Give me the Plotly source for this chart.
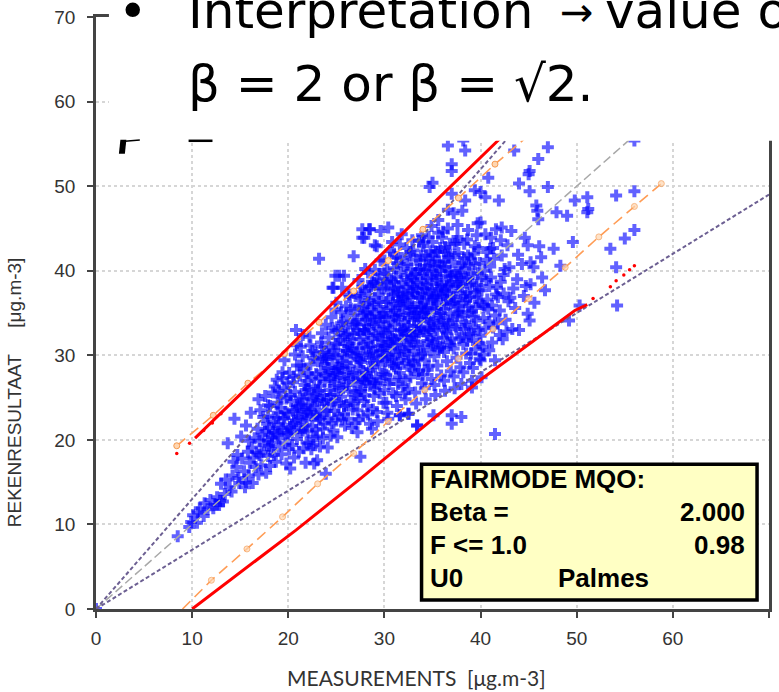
import plotly.graph_objects as go

# ---------------- data ----------------
# measurements / model results, grouped by measurement range
pts_tail = [(0.0, 0.0), (8.5, 8.6), (9.7, 9.7), (9.9, 10.3), (10.1, 11.1), (10.5, 10.2), (10.8, 11.9), (10.6, 11.4),
            (11.3, 12.5), (11.6, 11.8), (11.9, 12.9), (11.2, 11.0), (12.4, 12.3), (12.8, 12.3), (12.6, 13.2),
            (12.2, 11.9), (12.9, 12.8), (13.4, 13.6), (13.0, 14.8), (13.7, 19.6), (13.9, 14.4), (13.5, 15.3),
            (13.2, 12.7), (14.6, 16.8), (14.2, 15.8), (14.7, 18.2), (14.4, 22.5), (14.9, 14.9), (14.3, 17.4),
            (14.8, 15.5), (14.1, 13.9)]
pts_15_20 = [(15.6, 21.7), (15.9, 19.9), (15.9, 15.8), (15.6, 15.0), (15.2, 17.8), (15.4, 16.3), (15.8, 18.6),
             (15.1, 20.4), (15.5, 14.4), (16.6, 16.8), (16.2, 19.1), (16.8, 21.3), (16.4, 17.9), (16.9, 15.9),
             (16.1, 23.2), (16.5, 20.2), (16.7, 18.5), (16.3, 14.9), (16.9, 24.8), (17.2, 17.0), (17.5, 19.4),
             (17.8, 21.9), (17.1, 23.5), (17.6, 25.2), (17.9, 18.1), (17.3, 20.6), (17.7, 16.1), (17.4, 22.7),
             (17.9, 24.1), (17.0, 19.9), (18.2, 18.9), (18.6, 20.8), (18.9, 23.2), (18.4, 25.6), (18.1, 16.9),
             (18.8, 27.1), (18.5, 22.1), (18.3, 19.7), (18.7, 17.4), (18.9, 24.4), (18.0, 21.4), (18.6, 26.3),
             (19.4, 28.0), (19.1, 20.2), (19.6, 22.6), (19.8, 24.9), (19.3, 18.3), (19.9, 26.7), (19.5, 21.2),
             (19.2, 23.8), (19.7, 19.6), (19.0, 25.8), (19.8, 17.2), (19.4, 27.3), (19.6, 29.4), (19.5, 22.5),
             (18.9, 20.6), (18.4, 21.0), (17.9, 20.0), (16.0, 17.3), (17.0, 18.2), (18.0, 19.3), (19.0, 21.8),
             (17.2, 18.5), (17.6, 21.0), (17.9, 22.8), (18.3, 20.3), (18.7, 22.6), (18.1, 24.0), (18.5, 18.2),
             (19.0, 19.2), (19.3, 21.4), (19.7, 23.3), (19.2, 25.1), (19.9, 20.8), (19.6, 26.1)]
pts_20_25 = [(20.8, 33.0), (20.9, 31.2), (20.2, 21.5), (20.5, 23.4), (20.7, 25.7), (20.1, 27.9), (20.4, 19.4),
             (20.9, 28.8), (20.6, 17.9), (20.3, 24.6), (20.8, 22.3), (20.0, 20.6), (20.5, 26.8), (20.7, 30.1),
             (20.2, 16.6), (21.1, 18.6), (21.3, 20.9), (21.6, 23.1), (21.9, 25.4), (21.2, 27.6), (21.5, 29.9),
             (21.8, 21.8), (21.4, 24.3), (21.7, 26.5), (21.0, 22.7), (21.9, 19.7), (21.6, 28.4), (21.3, 31.0),
             (21.8, 17.3), (21.2, 25.0), (21.5, 32.4), (22.2, 32.2), (22.4, 18.9), (22.6, 20.4), (22.9, 22.8),
             (22.1, 24.1), (22.7, 26.3), (22.3, 28.9), (22.8, 30.3), (22.5, 21.6), (22.0, 23.3), (22.9, 25.5),
             (22.4, 27.4), (22.6, 29.7), (22.2, 19.6), (22.8, 23.9), (22.3, 31.2), (22.7, 17.2), (23.5, 32.6),
             (23.2, 41.4), (23.9, 16.0), (23.0, 17.6), (23.3, 19.2), (23.6, 21.3), (23.8, 23.5), (23.1, 25.8),
             (23.4, 28.1), (23.7, 30.4), (23.9, 33.6), (23.2, 22.4), (23.5, 24.7), (23.8, 26.9), (23.1, 29.3),
             (23.6, 20.2), (23.4, 31.5), (23.9, 27.6), (23.0, 23.0), (24.7, 21.1), (24.4, 20.5), (24.9, 39.4),
             (24.6, 38.0), (24.2, 22.6), (24.5, 24.2), (24.8, 26.4), (24.1, 28.5), (24.3, 30.9), (24.6, 33.2),
             (24.9, 35.4), (24.4, 25.3), (24.7, 27.7), (24.0, 29.6), (24.2, 32.1), (24.8, 23.4), (24.5, 34.5),
             (24.1, 19.1), (24.9, 31.4), (24.6, 29.0), (24.8, 30.1), (24.0, 24.8), (24.4, 27.2),
             (23.7, 25.3), (23.0, 24.6), (22.4, 22.9), (21.8, 23.6), (21.2, 21.4), (20.6, 22.0), (20.0, 23.1),
             (20.3, 21.0), (20.9, 24.1), (21.4, 22.6), (21.9, 27.0), (22.5, 24.8), (22.9, 27.8), (23.3, 26.4),
             (23.8, 28.9), (24.2, 27.9), (24.7, 30.6), (24.9, 28.2), (23.5, 29.6), (22.1, 26.0), (21.5, 24.8),
             (20.1, 18.9), (20.4, 21.8), (20.8, 23.6), (20.2, 25.3), (20.6, 27.5), (20.9, 20.1), (21.1, 23.9),
             (21.5, 21.1), (21.8, 25.9), (21.3, 28.8), (21.9, 22.4), (21.6, 19.0), (22.0, 21.0), (22.3, 23.6),
             (22.7, 25.0), (22.1, 27.9), (22.5, 30.5), (22.9, 21.2), (22.6, 19.4), (23.0, 20.4), (23.3, 22.6),
             (23.7, 24.3), (23.2, 27.2), (23.9, 29.8), (23.5, 31.0), (23.8, 21.9), (24.0, 23.4), (24.3, 25.9),
             (24.7, 24.6), (24.2, 30.0), (24.9, 32.9), (24.5, 22.0), (24.8, 27.0)]
pts_25_30 = [(25.3, 39.4), (25.8, 39.4), (25.6, 38.0), (25.9, 21.7), (25.2, 23.0), (25.5, 25.1), (25.8, 27.3),
             (25.1, 29.7), (25.4, 31.8), (25.7, 34.0), (25.0, 36.2), (25.3, 26.2), (25.6, 28.4), (25.9, 30.6),
             (25.2, 33.0), (25.5, 35.1), (25.8, 24.0), (25.1, 20.3), (25.7, 32.2), (25.0, 27.9),
             (25.6, 22.4), (26.8, 41.7), (26.2, 22.5), (26.5, 24.6), (26.8, 26.9), (26.1, 29.1),
             (26.4, 31.4), (26.7, 33.6), (26.0, 35.8), (26.3, 37.2), (26.9, 25.7), (26.2, 28.0),
             (26.5, 30.2), (26.8, 32.5), (26.1, 34.7), (26.4, 36.9), (26.7, 23.6), (26.3, 27.2),
             (26.9, 35.3), (26.6, 21.4), (27.7, 43.9), (27.7, 44.9), (27.9, 43.9), (27.5, 18.0),
             (27.2, 23.5), (27.5, 25.8), (27.8, 28.1), (27.1, 30.3), (27.4, 32.6), (27.7, 34.8), (27.0, 37.0),
             (27.3, 38.9), (27.9, 24.6), (27.2, 26.9), (27.5, 29.2), (27.8, 31.4), (27.1, 33.7),
             (27.4, 35.9), (27.7, 38.1), (27.3, 22.4), (27.6, 36.8), (27.9, 33.0), (27.2, 20.9),
             (28.5, 44.9), (28.4, 44.9), (28.7, 21.3), (28.5, 21.9), (28.2, 24.0), (28.5, 26.4), (28.8, 28.6),
             (28.1, 30.9), (28.4, 33.1), (28.7, 35.4), (28.0, 37.6), (28.3, 39.8), (28.9, 25.2),
             (28.2, 27.5), (28.5, 29.7), (28.8, 32.0), (28.1, 34.2), (28.4, 36.5), (28.7, 38.7), (28.0, 40.2),
             (28.3, 23.0), (28.6, 31.0), (28.9, 36.0), (28.5, 34.6), (29.0, 43.0), (29.2, 42.9),
             (29.6, 44.7), (29.2, 23.3), (29.5, 25.5), (29.8, 27.8), (29.1, 30.0), (29.4, 32.3), (29.7, 34.5),
             (29.0, 36.8), (29.3, 39.0), (29.6, 41.2), (29.9, 24.4), (29.2, 26.7), (29.5, 28.9), (29.8, 31.2),
             (29.1, 33.4), (29.4, 35.7), (29.7, 37.9), (29.0, 40.1), (29.3, 22.2), (29.6, 30.5), (29.9, 35.0),
             (29.2, 38.4), (29.5, 33.9), (25.3, 28.6), (26.4, 28.7), (27.6, 29.4), (28.7, 29.1),
             (29.9, 30.6), (25.0, 25.4), (26.0, 26.5), (27.0, 27.7), (28.0, 26.8), (29.0, 26.1), (27.3, 30.8),
             (27.9, 32.9), (28.4, 30.2), (28.9, 33.7), (29.3, 29.4), (29.8, 32.6), (29.6, 36.3), (29.0, 34.9),
             (28.4, 37.9), (27.8, 35.7), (27.2, 34.2), (26.6, 31.9), (26.1, 30.5), (25.6, 29.3), (26.9, 29.9),
             (28.2, 35.1), (29.5, 39.6), (24.7, 38.0), (25.2, 31.3), (25.7, 30.0), (26.2, 32.6), (26.7, 30.9),
             (26.0, 33.3), (25.4, 27.4), (27.1, 25.3), (27.4, 28.6), (27.8, 30.0), (27.5, 31.9), (27.2, 33.0),
             (27.9, 27.1), (27.6, 26.0), (28.1, 27.9), (28.6, 28.3), (28.3, 31.6), (28.8, 30.4), (28.0, 33.6),
             (28.7, 34.2), (28.3, 36.2), (28.9, 26.7), (29.1, 27.4), (29.6, 27.0), (29.3, 31.1), (29.8, 29.9),
             (29.0, 32.4), (29.5, 34.6), (29.9, 33.2), (29.4, 37.2), (29.7, 31.9), (25.0, 22.3), (25.3, 24.4),
             (25.7, 26.1), (25.2, 28.5), (25.9, 32.4), (25.5, 33.8), (25.8, 23.1), (26.0, 24.1), (26.3, 25.8),
             (26.7, 27.9), (26.2, 31.1), (26.9, 33.9), (26.5, 35.5), (26.8, 24.3), (27.0, 22.0), (27.3, 24.9),
             (27.7, 27.2), (27.2, 29.6), (27.9, 35.0), (27.5, 37.3), (27.8, 22.8), (28.0, 25.3), (28.4, 27.1),
             (28.8, 23.6), (28.2, 32.6), (28.6, 38.2), (28.9, 38.6)]
pts_30_35 = [(30.4, 45.1), (30.4, 22.5), (30.2, 24.4), (30.5, 26.6), (30.8, 28.9), (30.1, 31.1), (30.4, 33.4),
             (30.7, 35.6), (30.0, 37.9), (30.3, 40.1), (30.6, 42.3), (30.9, 25.5), (30.2, 27.7), (30.5, 30.0),
             (30.8, 32.2), (30.1, 34.5), (30.4, 36.7), (30.7, 39.0), (30.0, 41.2), (30.3, 23.2), (30.6, 31.5),
             (30.9, 36.1), (30.2, 38.6), (30.5, 34.0), (30.8, 43.4), (30.1, 29.3), (30.6, 27.1), (31.8, 44.3),
             (31.6, 22.9), (31.2, 25.2), (31.5, 27.4), (31.8, 29.7), (31.1, 31.9), (31.4, 34.2), (31.7, 36.4),
             (31.0, 38.7), (31.3, 40.9), (31.6, 43.1), (31.9, 26.3), (31.2, 28.5), (31.5, 30.8), (31.8, 33.0),
             (31.1, 35.3), (31.4, 37.5), (31.7, 39.8), (31.0, 42.0), (31.3, 24.0), (31.6, 32.3), (31.9, 36.9),
             (31.2, 39.3), (31.5, 34.8), (31.8, 41.5), (31.1, 30.1), (31.6, 27.9), (31.4, 37.0), (32.5, 23.1),
             (32.2, 24.8), (32.5, 26.0), (32.8, 28.3), (32.1, 30.5), (32.4, 32.8), (32.7, 35.0), (32.0, 37.3),
             (32.3, 39.5), (32.6, 41.8), (32.9, 43.6), (32.2, 27.1), (32.5, 29.4), (32.8, 31.6), (32.1, 33.9),
             (32.4, 36.1), (32.7, 38.4), (32.0, 40.6), (32.3, 42.7), (32.6, 30.9), (32.9, 35.5), (32.2, 38.0),
             (32.5, 33.5), (32.8, 40.2), (32.1, 25.5), (32.6, 28.7), (32.4, 37.2), (32.9, 32.4), (33.4, 21.7),
             (33.2, 25.6), (33.5, 27.8), (33.8, 30.1), (33.1, 32.3), (33.4, 34.6), (33.7, 36.8), (33.0, 39.1),
             (33.3, 41.3), (33.6, 43.5), (33.9, 26.7), (33.2, 28.9), (33.5, 31.2), (33.8, 33.4), (33.1, 35.7),
             (33.4, 37.9), (33.7, 40.2), (33.0, 42.4), (33.3, 24.3), (33.6, 32.7), (33.9, 37.3), (33.2, 39.6),
             (33.5, 35.1), (33.8, 41.8), (33.1, 30.5), (33.6, 28.2), (33.4, 38.6), (33.9, 44.2), (34.7, 49.9),
             (34.2, 26.1), (34.5, 28.3), (34.8, 30.6), (34.1, 32.8), (34.4, 35.1), (34.7, 37.3), (34.0, 39.6),
             (34.3, 41.8), (34.6, 44.0), (34.9, 27.2), (34.2, 29.4), (34.5, 31.7), (34.8, 33.9), (34.1, 36.2),
             (34.4, 38.4), (34.7, 40.7), (34.0, 42.9), (34.3, 24.8), (34.6, 33.2), (34.9, 37.8), (34.2, 40.1),
             (34.5, 35.6), (34.8, 42.3), (34.1, 31.0), (34.6, 28.7), (34.4, 39.1), (34.9, 45.3), (30.9, 31.9),
             (32.0, 33.1), (33.1, 34.2), (34.3, 35.4), (30.2, 35.3), (30.7, 30.9), (31.1, 33.6), (31.6, 35.9),
             (32.0, 31.8), (32.5, 34.4), (32.9, 36.8), (33.3, 32.9), (33.8, 35.7), (34.2, 37.9), (34.6, 34.3),
             (33.0, 38.1), (32.2, 36.6), (31.5, 38.1), (30.9, 37.2), (30.3, 38.8), (31.0, 40.3), (32.4, 40.8),
             (33.7, 41.2), (34.1, 43.3), (32.7, 42.2), (31.2, 41.6), (30.0, 39.7), (33.5, 29.6), (34.9, 31.9),
             (34.0, 27.7), (32.7, 27.4), (31.4, 26.6), (30.0, 25.9), (31.6, 22.9), (32.5, 23.1), (33.4, 21.7),
             (30.0, 28.0), (30.3, 29.8), (30.6, 33.0), (30.9, 34.7), (30.2, 36.3), (30.7, 37.7), (30.4, 31.6),
             (30.8, 29.5), (30.1, 32.7), (31.0, 28.7), (31.3, 31.3), (31.7, 32.9), (31.2, 34.6), (31.9, 35.6),
             (31.5, 36.4), (31.0, 37.9), (31.8, 38.6), (31.4, 29.1), (31.6, 30.4), (32.0, 29.0), (32.3, 31.2),
             (32.7, 32.1), (32.1, 34.8), (32.6, 35.7), (32.9, 37.6), (32.4, 38.9), (32.8, 39.3), (32.2, 32.5),
             (32.5, 30.1), (33.0, 29.3), (33.3, 31.6), (33.7, 33.1), (33.2, 35.0), (33.9, 36.0), (33.5, 36.9),
             (33.0, 37.4), (33.8, 38.9), (33.4, 40.1), (33.6, 34.2), (33.1, 33.5), (34.0, 30.2), (34.4, 32.4),
             (34.7, 33.0), (34.2, 34.5), (34.9, 36.5), (34.5, 37.1), (34.0, 38.0), (34.8, 39.4), (34.3, 40.6),
             (34.6, 41.4), (34.1, 35.0)]
pts_35_40 = [(35.0, 50.4), (35.1, 22.9), (35.2, 26.5), (35.5, 28.8), (35.8, 31.0), (35.1, 33.3), (35.4, 35.5),
             (35.7, 37.8), (35.0, 40.0), (35.3, 42.3), (35.6, 44.5), (35.9, 27.6), (35.2, 29.9), (35.5, 32.1),
             (35.8, 34.4), (35.1, 36.6), (35.4, 38.9), (35.7, 41.1), (35.0, 43.4), (35.3, 25.3), (35.6, 33.6),
             (35.9, 38.2), (35.2, 40.6), (35.5, 36.1), (35.8, 42.7), (35.1, 31.5), (35.6, 46.0), (35.4, 39.6),
             (36.6, 54.8), (36.2, 27.0), (36.5, 29.3), (36.8, 31.5), (36.1, 33.8), (36.4, 36.0), (36.7, 38.3),
             (36.0, 40.5), (36.3, 42.8), (36.6, 45.0), (36.9, 28.1), (36.2, 30.4), (36.5, 32.6), (36.8, 34.9),
             (36.1, 37.1), (36.4, 39.4), (36.7, 41.6), (36.0, 43.9), (36.3, 25.8), (36.6, 34.1), (36.9, 38.7),
             (36.2, 41.1), (36.5, 36.6), (36.8, 43.2), (36.1, 32.0), (36.6, 47.2), (37.0, 52.6), (37.0, 51.8),
             (37.0, 49.1), (37.0, 22.9), (37.0, 21.9), (37.2, 27.5), (37.5, 29.7), (37.8, 32.0), (37.1, 34.2),
             (37.4, 36.5), (37.7, 38.7), (37.0, 41.0), (37.3, 43.2), (37.6, 45.4), (37.9, 28.6), (37.2, 30.8),
             (37.5, 33.1), (37.8, 35.3), (37.1, 37.6), (37.4, 39.8), (37.7, 42.1), (37.3, 26.1), (37.6, 34.6),
             (37.9, 39.2), (37.2, 46.8), (38.2, 55.4), (38.4, 54.2), (38.4, 48.3), (38.1, 47.1), (38.0, 26.6),
             (38.0, 22.7), (38.2, 28.0), (38.5, 30.2), (38.8, 32.5), (38.1, 34.7), (38.4, 37.0), (38.7, 39.2),
             (38.3, 41.5), (38.6, 43.7), (38.9, 29.1), (38.2, 31.3), (38.5, 33.6), (38.8, 35.8), (38.1, 38.1),
             (38.4, 40.3), (38.7, 44.8), (38.5, 36.5), (39.4, 49.5), (39.1, 27.0), (39.1, 26.2), (39.2, 28.5),
             (39.5, 30.7), (39.8, 33.0), (39.1, 35.2), (39.4, 37.5), (39.7, 39.7), (39.3, 42.0), (39.6, 44.2),
             (39.9, 29.6), (39.2, 31.8), (39.5, 34.1), (39.8, 36.3), (39.1, 38.6), (39.4, 40.8), (39.7, 45.6),
             (35.4, 36.9), (36.5, 38.1), (37.6, 39.5), (38.7, 41.8), (39.8, 42.7), (35.1, 36.9), (35.5, 39.2),
             (35.9, 35.0), (36.3, 37.7), (36.8, 40.0), (37.2, 36.2), (37.7, 38.2), (38.1, 40.9), (38.6, 37.4),
             (35.0, 41.8), (36.4, 42.3), (37.5, 43.5), (36.2, 33.3), (37.6, 35.1), (38.9, 36.9), (39.6, 38.3),
             (35.6, 30.7), (36.9, 31.2), (38.3, 33.1), (39.3, 34.6), (35.0, 31.2), (35.3, 33.0), (35.7, 34.7),
             (35.2, 35.6), (35.9, 37.0), (35.5, 37.6), (35.0, 38.5), (35.8, 40.0), (35.3, 41.1), (35.6, 42.2),
             (35.1, 34.1), (36.0, 30.9), (36.4, 32.8), (36.7, 33.6), (36.2, 35.5), (36.9, 36.1), (36.5, 37.3),
             (36.0, 38.4), (36.8, 39.3), (36.3, 40.4), (36.6, 41.9), (36.1, 44.6), (37.0, 31.9), (37.4, 33.4),
             (37.7, 35.8), (37.2, 36.9), (37.9, 37.3), (37.5, 38.4), (37.0, 39.4), (37.8, 40.6), (37.3, 41.9),
             (37.6, 44.0), (38.0, 32.2), (38.4, 33.9), (38.7, 35.1), (38.2, 36.2), (38.9, 38.4), (38.5, 39.0),
             (38.0, 39.7), (38.8, 40.6), (38.3, 43.2), (39.0, 32.6), (39.5, 35.6), (39.8, 37.7), (39.2, 39.6),
             (39.9, 40.9), (39.4, 42.9), (39.0, 30.2), (39.3, 33.3), (39.6, 36.8), (39.0, 41.4), (39.9, 31.4),
             (38.6, 31.7)]
pts_40_up = [(40.0, 49.3), (40.5, 48.7), (40.8, 51.0), (40.0, 45.7), (40.5, 44.3), (40.0, 29.4), (40.1, 27.4),
             (40.2, 31.0), (40.5, 33.2), (40.8, 35.5), (40.1, 37.7), (40.4, 40.0), (40.7, 42.2), (40.3, 30.1),
             (40.6, 38.9), (40.9, 34.0), (40.2, 36.0), (40.4, 35.8), (40.9, 38.2), (41.0, 42.6), (41.1, 43.9),
             (41.5, 29.4), (42.0, 32.4), (41.5, 20.7), (41.9, 48.3), (41.2, 31.5), (41.5, 34.7), (41.8, 36.9),
             (41.1, 39.2), (41.4, 41.4), (41.7, 38.0), (41.3, 33.3), (41.6, 44.9), (42.2, 41.8), (42.2, 45.1),
             (42.3, 31.9), (42.6, 34.2), (42.9, 36.4), (42.1, 38.7), (42.5, 40.2), (42.8, 43.0), (42.4, 37.3),
             (43.5, 54.2), (43.0, 40.4), (43.4, 37.9), (43.2, 44.7), (43.3, 33.1), (43.6, 35.6), (43.9, 41.9),
             (43.1, 36.8), (43.8, 39.0), (44.0, 50.3), (44.6, 43.9), (44.9, 43.0), (44.9, 34.9), (44.0, 33.0),
             (44.5, 37.0), (44.3, 40.8), (44.7, 38.2), (45.1, 34.1), (46.0, 53.2), (45.1, 51.8), (45.0, 51.4),
             (45.1, 49.4), (45.8, 47.7), (45.9, 47.1), (45.2, 41.0), (45.5, 40.4), (45.2, 38.4), (45.6, 36.2),
             (46.0, 46.1), (46.1, 42.9), (46.3, 41.6), (46.7, 37.7), (46.4, 39.2), (47.0, 54.6), (47.0, 49.9),
             (47.9, 46.9), (47.6, 42.6), (48.3, 40.6), (49.0, 46.5), (49.8, 48.3), (49.6, 43.4), (49.2, 34.1),
             (50.3, 35.9), (51.1, 48.7), (51.1, 46.9), (51.2, 47.3), (53.5, 42.6), (54.1, 48.9), (54.1, 40.4),
             (54.2, 35.9), (55.0, 43.8), (56.0, 49.4), (56.0, 44.8), (56.0, 55.4), (40.0, 32.3), (40.3, 34.4),
             (40.7, 36.6), (40.1, 39.1), (40.6, 41.3), (40.9, 30.6), (41.2, 35.9), (41.6, 37.2), (41.0, 40.5),
             (41.8, 33.8), (41.3, 42.7), (42.0, 35.3), (42.4, 39.5), (42.7, 32.8), (42.1, 43.6)]

# reference lines
line_11_x = [0, 60]
line_11_y = [0, 60]
purple_hi_x = [0, 46]
purple_hi_y = [0, 59.8]
purple_lo_x = [0, 70]
purple_lo_y = [0, 49.0]
orange_hi_x = [8.4, 12.2, 15.8, 19.6, 23.2, 26.8, 30.4, 34.0, 37.7, 41.5, 45.3]
orange_hi_y = [19.3, 22.9, 26.7, 30.2, 33.9, 37.6, 41.2, 44.9, 48.6, 52.6, 56.3]
orange_lo_x = [9.0, 12.0, 15.7, 19.4, 23.05, 26.8, 30.4, 34.2, 37.7, 41.3, 45.0, 48.8, 52.3, 56.0, 58.8]
orange_lo_y = [0.0, 3.4, 7.1, 10.9, 14.8, 18.4, 22.2, 25.9, 29.6, 33.1, 36.7, 40.4, 44.0, 47.6, 50.3]
red_hi_x = [10.3, 19.2, 33.2, 42.0, 44.5]
red_hi_y = [20.2, 30.0, 45.9, 55.6, 58.5]
red_hi_dots_x = [8.4, 9.73, 11.2, 12.1, 13.0]
red_hi_dots_y = [18.4, 19.6, 21.1, 22.0, 23.1]
red_lo_x = [10.0, 20.8, 27.7, 40.1, 49.8, 51.1]
red_lo_y = [0.0, 9.33, 15.6, 27.2, 35.3, 36.0]
red_lo_dots_x = [51.7, 53.5, 54.1, 54.9, 55.5, 56.0]
red_lo_dots_y = [36.7, 38.1, 38.8, 39.5, 40.1, 40.6]

box_lines = ["FAIRMODE MQO:", "Beta =", "F <= 1.0", "U0"]
box_values = ["", "2.000", "0.98", ""]
station = "Palmes"

# ---------------- layout helpers (pixel -> paper) ----------------
W, H = 779, 692
L, R, T, B = 96, 772, 16, 609


def px(x):
    return (x - L) / (R - L)


def py(y):
    return (B - y) / (B - T)


all_pts = pts_tail + pts_15_20 + pts_20_25 + pts_25_30 + pts_30_35 + pts_35_40 + pts_40_up
meas = [p[0] for p in all_pts]
model = [p[1] for p in all_pts]

fig = go.Figure()
fig.add_trace(go.Scatter(x=meas, y=model, mode="markers",
                         marker=dict(symbol="cross", size=10, color="rgba(0,0,255,0.62)", line=dict(width=0)),
                         hoverinfo="skip", showlegend=False))
fig.add_trace(go.Scatter(x=line_11_x, y=line_11_y, mode="lines",
                         line=dict(color="#a8a8a8", width=1.5, dash="9px,4px"), showlegend=False))
for xs, ys in [(purple_hi_x, purple_hi_y), (purple_lo_x, purple_lo_y)]:
    fig.add_trace(go.Scatter(x=xs, y=ys, mode="lines",
                             line=dict(color="#6c5f92", width=2, dash="4px,2.5px"), showlegend=False))
fig.add_trace(go.Scatter(x=orange_hi_x, y=orange_hi_y, mode="lines+markers",
                         line=dict(color="#ff9c55", width=1.6, dash="11px,6px"),
                         marker=dict(symbol="circle", size=6, color="#ffd6b0", line=dict(color="#f59a50", width=1)),
                         showlegend=False))
fig.add_trace(go.Scatter(x=orange_lo_x, y=orange_lo_y, mode="lines+markers",
                         line=dict(color="#ff9c55", width=1.6, dash="11px,6px"),
                         marker=dict(symbol="circle", size=[0] + [6] * (len(orange_lo_x) - 1), color="#ffd6b0",
                                     line=dict(color="#f59a50", width=1)),
                         showlegend=False))
for xs, ys in [(red_hi_x, red_hi_y), (red_lo_x, red_lo_y)]:
    fig.add_trace(go.Scatter(x=xs, y=ys, mode="lines",
                             line=dict(color="#ff0000", width=3), showlegend=False))
for xs, ys in [(red_hi_dots_x, red_hi_dots_y), (red_lo_dots_x, red_lo_dots_y)]:
    fig.add_trace(go.Scatter(x=xs, y=ys, mode="markers",
                             marker=dict(color="#ff0000", size=3.5, line=dict(width=0)), showlegend=False))

axis_common = dict(range=[0, 70], dtick=10, tick0=0, showgrid=True, gridcolor="#d6d6d6", gridwidth=2,
                   griddash="dot", zeroline=False, showline=True, linecolor="#444444", linewidth=2.5,
                   mirror=True, ticks="outside", ticklen=6, tickwidth=2, tickcolor="#444444",
                   tickfont=dict(family="Liberation Sans, Arial", size=19, color="#333333"))

fig.update_layout(
    width=W, height=H,
    margin=dict(l=L, r=W - R, t=T, b=H - B, pad=0),
    paper_bgcolor="white", plot_bgcolor="white",
    xaxis=dict(**axis_common, ticklabelstandoff=4),
    yaxis=dict(**axis_common, ticklabelstandoff=8),
    showlegend=False,
)

shapes = []
# white slide text panel covering the top of the chart
shapes.append(dict(type="rect", xref="paper", yref="paper", x0=px(109), x1=px(790), y0=py(140), y1=py(-20),
                   fillcolor="white", line=dict(width=0), layer="above"))
# fragments of the third slide-text line
shapes.append(dict(type="path", xref="paper", yref="paper",
                   path="M {0},{1} L {2},{1} L {3},{4} L {5},{4} Z".format(px(120.5), py(139), px(126.5), px(125), py(153), px(119)),
                   fillcolor="black", line=dict(width=0), layer="above"))
shapes.append(dict(type="line", xref="paper", yref="paper", x0=px(125), x1=px(140), y0=py(140.5), y1=py(139.2),
                   line=dict(color="black", width=1.5), layer="above"))
shapes.append(dict(type="line", xref="paper", yref="paper", x0=px(189), x1=px(213), y0=py(140), y1=py(140),
                   line=dict(color="black", width=2.5), layer="above"))
# FAIRMODE box
shapes.append(dict(type="rect", xref="paper", yref="paper", x0=px(423), x1=px(760), y0=py(600), y1=py(464),
                   fillcolor="#ffffc4", line=dict(color="black", width=3.5), layer="above"))
fig.update_layout(shapes=shapes)

ann = []
slide_font = dict(family="DejaVu Sans", size=50, color="black")
ann.append(dict(text="•", x=px(116), y=py(9.7), xanchor="left", yanchor="middle", font=slide_font))
ann.append(dict(text="Interpretation", x=px(186), y=py(9.7), xanchor="left", yanchor="middle", font=slide_font))
ann.append(dict(text="→", x=px(579), y=py(11), xanchor="center", yanchor="middle",
                font=dict(family="DejaVu Sans", size=40, color="black")))
ann.append(dict(text="value of", x=px(605), y=py(9.7), xanchor="left", yanchor="middle", font=slide_font))
ann.append(dict(text="β = 2 or β = √2.", x=px(186), y=py(82.7), xanchor="left", yanchor="middle", font=slide_font))

# axis titles
ann.append(dict(text="MEASUREMENTS&nbsp;&nbsp;[μg.m-3]", x=px(417.5), y=py(678), xanchor="center", yanchor="middle",
                font=dict(family="Lato", size=21, color="#333333")))
ann.append(dict(text="REKENRESULTAAT&nbsp;&nbsp;&nbsp;&nbsp;&nbsp;[μg.m-3]", x=px(15), y=py(391.5), textangle=-90,
                xanchor="center", yanchor="middle",
                font=dict(family="Liberation Sans", size=19, color="#333333")))

# FAIRMODE box text
box_font = dict(family="Liberation Sans", size=26, color="black", weight="bold")
centers = [479, 512, 545, 578]
for i, (lab, val) in enumerate(zip(box_lines, box_values)):
    ann.append(dict(text="<b>%s</b>" % lab, x=px(429.5), y=py(centers[i]), xanchor="left", yanchor="middle",
                    font=box_font))
    if val:
        ann.append(dict(text="<b>%s</b>" % val, x=px(750), y=py(centers[i]), xanchor="right", yanchor="middle",
                        font=box_font))
ann.append(dict(text="<b>%s</b>" % station, x=px(558), y=py(centers[3]), xanchor="left", yanchor="middle",
                font=box_font))

for a in ann:
    a.update(xref="paper", yref="paper", showarrow=False)
fig.update_layout(annotations=ann)

fig.write_html("out.html")
